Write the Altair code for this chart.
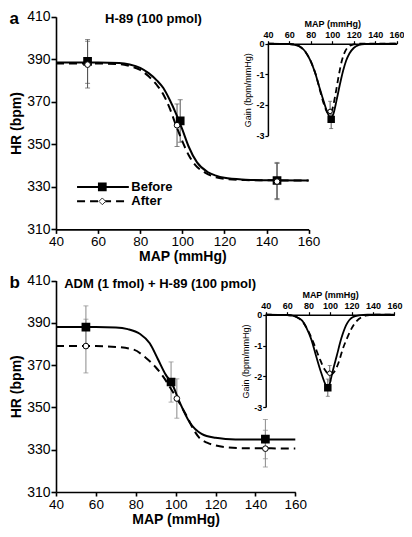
import altair as alt
import pandas as pd

FONT = "Liberation Sans"

# ---------------- panel a : H-89 (100 pmol) ----------------
A_BEFORE_MAP = [40, 50, 60, 70, 75, 80, 84, 88, 91, 94, 97, 100, 103, 107, 112, 116, 120, 130, 140, 160]
A_BEFORE_HR = [388.5, 388.5, 388.5, 388.3, 387.6, 386, 383.5, 380, 376.5, 371, 364.5, 357, 349, 341.5, 337, 335.3, 334.3, 333.4, 333.1, 333]
A_AFTER_MAP = [40, 60, 70, 75, 80, 84, 88, 91, 94, 97, 100, 103, 106, 111, 116, 120, 130, 160]
A_AFTER_HR = [388, 388, 387.8, 386.8, 385, 382, 377.8, 373.5, 367, 359, 351.5, 345, 340.5, 336.6, 334.5, 333.8, 333.2, 333]
A_PT_BEFORE_MAP = [55, 99, 145]
A_PT_BEFORE_HR = [389, 361, 333]
A_PT_BEFORE_SEM = [10.3, 10, 8.5]
A_PT_AFTER_MAP = [55, 97.5, 145]
A_PT_AFTER_HR = [387.5, 359, 332.5]
A_PT_AFTER_SEM = [11, 10, 8.5]

# inset a : gain
AI_BEFORE_MAP = [40, 60, 65, 70, 75, 80, 84, 88, 92, 95, 98.5, 101, 104, 107, 110, 113, 116, 120, 125, 130, 160]
AI_BEFORE_GAIN = [0, -0.01, -0.04, -0.1, -0.26, -0.58, -0.95, -1.42, -1.88, -2.2, -2.43, -2.3, -1.85, -1.35, -0.9, -0.55, -0.32, -0.14, -0.04, -0.01, 0]
AI_AFTER_MAP = [40, 60, 65, 70, 75, 80, 85, 88, 92, 95, 97.5, 100, 103, 106, 109, 112, 116, 120, 125, 160]
AI_AFTER_GAIN = [0, -0.01, -0.03, -0.1, -0.27, -0.58, -1.05, -1.45, -1.95, -2.22, -2.3, -2.15, -1.65, -1.05, -0.55, -0.25, -0.08, -0.02, 0, 0]
AI_PT_BEFORE = ([99], [-2.47], [0.3])
AI_PT_AFTER = ([98], [-2.21], [0.33])

# ---------------- panel b : ADM (1 fmol) + H-89 (100 pmol) ----------------
B_BEFORE_MAP = [40, 60, 70, 76, 82, 87, 91, 95, 98, 102, 107, 113, 120, 125, 135, 160]
B_BEFORE_HR = [388, 388, 387.8, 387, 384.8, 380.3, 373, 365.5, 361.5, 352.5, 343, 337.5, 335.6, 335.1, 334.8, 334.8]
B_AFTER_MAP = [40, 60, 70, 79, 85, 90, 94, 97, 100.6, 105.6, 109, 112, 116, 120, 125, 135, 160]
B_AFTER_HR = [379, 379, 378.6, 377.3, 373.5, 369, 364.2, 359.8, 354.2, 345.8, 339.5, 335.5, 333.2, 332, 331.2, 330.7, 330.6]
B_PT_BEFORE_MAP = [55, 97.7, 145]
B_PT_BEFORE_HR = [388, 362, 335]
B_PT_BEFORE_SEM = [10, 9.5, 9.3]
B_PT_AFTER_MAP = [55, 100.6, 145]
B_PT_AFTER_HR = [379, 354.2, 330.5]
B_PT_AFTER_SEM = [12.7, 9.3, 8.7]

# inset b : gain
BI_BEFORE_MAP = [40, 60, 65, 70, 74, 78, 82.6, 87, 91.5, 95.9, 97.9, 100, 102, 106.2, 110.6, 115, 121, 127, 135, 160]
BI_BEFORE_GAIN = [0, -0.01, -0.03, -0.1, -0.19, -0.43, -0.81, -1.34, -1.86, -2.28, -2.38, -2.2, -1.9, -1.34, -0.76, -0.34, -0.08, -0.02, 0, 0]
BI_AFTER_MAP = [40, 60, 65, 70, 75, 80, 85, 90, 95, 100, 104, 108, 112, 116, 120, 125, 130, 135, 140, 160]
BI_AFTER_GAIN = [0, -0.01, -0.03, -0.1, -0.25, -0.55, -0.95, -1.4, -1.78, -1.95, -1.85, -1.55, -1.1, -0.75, -0.45, -0.2, -0.07, -0.02, 0, 0]
BI_PT_BEFORE = ([97.9], [-2.37], [0.28])
BI_PT_AFTER = ([99.7], [-1.9], [0.25])

# tick values / labels
MAIN_X_TICKS = [40, 60, 80, 100, 120, 140, 160]
MAIN_Y_TICKS = [310, 330, 350, 370, 390, 410]
GAIN_TICKS = [-3, -2, -1, 0]

# legend (panel a)
LEG_LABELS = ["Before", "After"]
LEG_HR = [330.0, 323.2]

W, H = 396, 521
Y_AXIS_X = 48


def curve(maps, vals):
    return pd.DataFrame({"map": maps, "v": vals})


def pts(maps, vals, sems):
    df = pd.DataFrame({"map": maps, "v": vals, "sem": sems})
    df["lo"] = df["v"] - df["sem"]
    df["hi"] = df["v"] + df["sem"]
    return df


def main_axes(x_offset):
    xa = alt.Axis(orient="bottom", offset=x_offset, values=MAIN_X_TICKS, title="MAP (mmHg)",
                  grid=False, domainColor="black", domainWidth=1.6, tickColor="black", tickWidth=1.6,
                  tickSize=4, labelFont=FONT, labelFontSize=13.5, labelColor="black", labelPadding=1,
                  labelFlush=False, labelOverlap=False, titleFont=FONT, titleFontSize=14,
                  titleFontWeight="bold", titleColor="black", titlePadding=2)
    ya = alt.Axis(orient="left", offset=-Y_AXIS_X, values=MAIN_Y_TICKS, title="HR (bpm)",
                  grid=False, domainColor="black", domainWidth=1.6, tickColor="black", tickWidth=1.6,
                  tickSize=5, labelFont=FONT, labelFontSize=14, labelColor="black", labelPadding=1,
                  labelFlush=False, labelOverlap=False, titleFont=FONT, titleFontSize=14,
                  titleFontWeight="bold", titleColor="black", titlePadding=3)
    return xa, ya


def inset_axes(x_offset, y_offset):
    xa = alt.Axis(orient="top", offset=x_offset, values=MAIN_X_TICKS, title="MAP (mmHg)",
                  grid=False, domainColor="black", domainWidth=1.5, tickColor="black", tickWidth=1.2,
                  tickSize=3, labelFont=FONT, labelFontSize=9, labelFontWeight="bold", labelColor="black",
                  labelPadding=1, labelFlush=False, labelOverlap=False, titleFont=FONT, titleFontSize=9,
                  titleFontWeight="bold", titleColor="black", titlePadding=2)
    ya = alt.Axis(orient="left", offset=y_offset, values=GAIN_TICKS, title="Gain (bpm/mmHg)",
                  grid=False, domainColor="black", domainWidth=1.5, tickColor="black", tickWidth=1.2,
                  tickSize=3, labelFont=FONT, labelFontSize=9, labelFontWeight="bold", labelColor="black",
                  labelPadding=1, labelFlush=False, labelOverlap=False, labelExpr="'' + datum.value",
                  titleFont=FONT, titleFontSize=9, titleFontWeight="normal", titleColor="black",
                  titlePadding=3)
    return xa, ya


def plot_group(cb, ca, pb, pa, xscale, yscale, xaxis, yaxis, err_color, lw, dash, sq, circ, cap):
    def X(f):
        return alt.X(f, type="quantitative", scale=xscale, axis=xaxis)

    def Y(f):
        return alt.Y(f, type="quantitative", scale=yscale, axis=yaxis)

    allp = pd.concat([pb, pa], ignore_index=True)
    layers = []
    layers.append(alt.Chart(allp).mark_rule(color=err_color, strokeWidth=1).encode(
        x=X("map"), y=Y("lo"), y2=alt.Y2("hi")))
    layers.append(alt.Chart(allp).mark_tick(orient="horizontal", color=err_color, size=cap, thickness=1).encode(
        x=X("map"), y=Y("lo")))
    layers.append(alt.Chart(allp).mark_tick(orient="horizontal", color=err_color, size=cap, thickness=1).encode(
        x=X("map"), y=Y("hi")))
    layers.append(alt.Chart(cb).mark_line(color="black", strokeWidth=lw, interpolate="monotone").encode(
        x=X("map"), y=Y("v")))
    layers.append(alt.Chart(ca).mark_line(color="black", strokeWidth=lw, strokeDash=dash,
                                          interpolate="monotone").encode(x=X("map"), y=Y("v")))
    layers.append(alt.Chart(pb).mark_point(shape="square", filled=True, fill="black", stroke="black",
                                           size=sq, opacity=1).encode(x=X("map"), y=Y("v")))
    layers.append(alt.Chart(pa).mark_point(shape="circle", filled=True, fill="white", stroke="black",
                                           strokeWidth=1, size=circ, opacity=1).encode(x=X("map"), y=Y("v")))
    return layers, X, Y


def label(df, X, Y, size, align):
    return alt.Chart(df).mark_text(font=FONT, fontWeight="bold", fontSize=size, align=align,
                                   baseline="middle", color="black").encode(x=X("map"), y=Y("v"), text="t")


# ---------- panel a main ----------
a_xs = alt.Scale(domain=[40, 160], range=[Y_AXIS_X, 300.6], nice=False, zero=False)
a_ys = alt.Scale(domain=[310, 410], range=[221.4, 8.8], nice=False, zero=False)
a_xa, a_ya = main_axes(-(H - 221.4))
a_layers, aX, aY = plot_group(curve(A_BEFORE_MAP, A_BEFORE_HR), curve(A_AFTER_MAP, A_AFTER_HR),
                              pts(A_PT_BEFORE_MAP, A_PT_BEFORE_HR, A_PT_BEFORE_SEM),
                              pts(A_PT_AFTER_MAP, A_PT_AFTER_HR, A_PT_AFTER_SEM),
                              a_xs, a_ys, a_xa, a_ya, "#555555", 2, [8, 5], 45, 32, 5)
a_layers.append(label(pd.DataFrame({"map": [17.9], "v": [409.2], "t": ["a"]}), aX, aY, 17, "left"))
a_layers.append(label(pd.DataFrame({"map": [86.3], "v": [409.2], "t": ["H-89 (100 pmol)"]}), aX, aY, 13, "center"))

# legend
leg = pd.DataFrame({"label": LEG_LABELS, "v": LEG_HR, "x0": [50, 50], "x1": [74.6, 74.6],
                    "xm": [62, 62], "xt": [75.8, 75.8]})
a_layers.append(alt.Chart(leg.iloc[[0]]).mark_rule(color="black", strokeWidth=2).encode(
    x=aX("x0"), x2=alt.X2("x1"), y=aY("v")))
a_layers.append(alt.Chart(leg.iloc[[1]]).mark_rule(color="black", strokeWidth=2, strokeDash=[8, 5]).encode(
    x=aX("x0"), x2=alt.X2("x1"), y=aY("v")))
a_layers.append(alt.Chart(leg.iloc[[0]]).mark_point(shape="square", filled=True, fill="black", stroke="black",
                                                     size=45, opacity=1).encode(x=aX("xm"), y=aY("v")))
a_layers.append(alt.Chart(leg.iloc[[1]]).mark_point(shape="diamond", filled=True, fill="white", stroke="#333",
                                                     strokeWidth=1, size=45, opacity=1).encode(x=aX("xm"), y=aY("v")))
a_layers.append(alt.Chart(leg).mark_text(font=FONT, fontWeight="bold", fontSize=13, align="left",
                                         baseline="middle", color="black").encode(
    x=aX("xt"), y=aY("v"), text="label"))
panel_a = alt.layer(*a_layers)

# ---------- inset a ----------
ai_xs = alt.Scale(domain=[40, 160], range=[259.9, 388.6], nice=False, zero=False)
ai_ys = alt.Scale(domain=[-3, 0], range=[127.6, 35.7], nice=False, zero=False)
ai_xa, ai_ya = inset_axes(-35.7, -259.9)
ai_layers, _, _ = plot_group(curve(AI_BEFORE_MAP, AI_BEFORE_GAIN), curve(AI_AFTER_MAP, AI_AFTER_GAIN),
                             pts(*AI_PT_BEFORE), pts(*AI_PT_AFTER),
                             ai_xs, ai_ys, ai_xa, ai_ya, "#555555", 1.8, [6, 4], 30, 20, 4)
inset_a = alt.layer(*ai_layers)

# ---------- panel b main ----------
b_xs = alt.Scale(domain=[40, 160], range=[Y_AXIS_X, 287.3], nice=False, zero=False)
b_ys = alt.Scale(domain=[310, 410], range=[484.0, 272.5], nice=False, zero=False)
b_xa, b_ya = main_axes(-(H - 484.0))
b_layers, bX, bY = plot_group(curve(B_BEFORE_MAP, B_BEFORE_HR), curve(B_AFTER_MAP, B_AFTER_HR),
                              pts(B_PT_BEFORE_MAP, B_PT_BEFORE_HR, B_PT_BEFORE_SEM),
                              pts(B_PT_AFTER_MAP, B_PT_AFTER_HR, B_PT_AFTER_SEM),
                              b_xs, b_ys, b_xa, b_ya, "#8a8a8a", 2, [8, 5], 45, 32, 5)
b_layers.append(label(pd.DataFrame({"map": [16.7], "v": [409], "t": ["b"]}), bX, bY, 17, "left"))
b_layers.append(label(pd.DataFrame({"map": [92.2], "v": [408.5], "t": ["ADM (1 fmol) + H-89 (100 pmol)"]}),
                      bX, bY, 13, "center"))
panel_b = alt.layer(*b_layers)

# ---------- inset b ----------
bi_xs = alt.Scale(domain=[40, 160], range=[257.7, 386.4], nice=False, zero=False)
bi_ys = alt.Scale(domain=[-3, 0], range=[399.1, 306.7], nice=False, zero=False)
bi_xa, bi_ya = inset_axes(-306.7, -257.7)
bi_layers, _, _ = plot_group(curve(BI_BEFORE_MAP, BI_BEFORE_GAIN), curve(BI_AFTER_MAP, BI_AFTER_GAIN),
                             pts(*BI_PT_BEFORE), pts(*BI_PT_AFTER),
                             bi_xs, bi_ys, bi_xa, bi_ya, "#666666", 1.8, [6, 4], 30, 20, 4)
inset_b = alt.layer(*bi_layers)

chart = alt.layer(panel_a, inset_a, panel_b, inset_b).resolve_scale(
    x="independent", y="independent"
).resolve_axis(
    x="independent", y="independent"
).properties(
    width=W, height=H, padding=0, autosize=alt.AutoSizeParams(type="none")
).configure_view(stroke=None)

chart.save("out.html", embed_options={"renderer": "svg", "actions": False})
